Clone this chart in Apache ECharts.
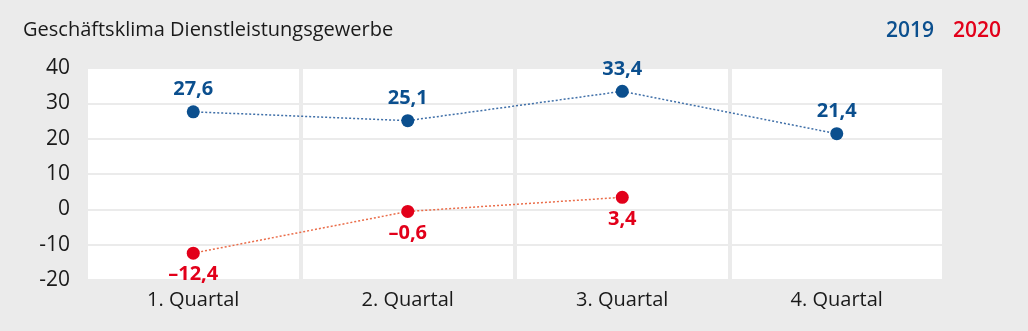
<!DOCTYPE html>
<html><head><meta charset="utf-8">
<style>html,body{margin:0;padding:0;background:#ebebeb;}#c{width:1028px;height:331px;}</style>
<script src="https://cdn.jsdelivr.net/npm/echarts@6/dist/echarts.min.js"></script>
</head><body><div id="c"></div>
<script>
const categories = ['1. Quartal', '2. Quartal', '3. Quartal', '4. Quartal'];
const values2019 = [27.6, 25.1, 33.4, 21.4];
const values2020 = [-12.4, -0.6, 3.4, null];
const yTicks = { min: -20, max: 40, interval: 10 };
const title = 'Geschäftsklima Dienstleistungsgewerbe';

const BLUE = '#0b4f8e', RED = '#e2001a';
const FONT = 'Open Sans';
function fmt(v) { return (v < 0 ? '\u2013' : '') + Math.abs(v).toFixed(1).replace('.', ','); }

const chart = echarts.init(document.getElementById('c'), null, { renderer: 'canvas' });
chart.setOption({
  backgroundColor: '#ebebeb',
  animation: false,
  title: { text: title, left: 18, top: 15, textStyle: { fontFamily: FONT, fontSize: 20, fontWeight: 'normal', color: '#1a1a1a' } },
  legend: {
    right: 22, top: 16, icon: 'none', itemWidth: 0, itemGap: 14,
    data: [
      { name: '2019', textStyle: { color: BLUE } },
      { name: '2020', textStyle: { color: RED } }
    ],
    textStyle: { fontFamily: FONT, fontSize: 21, fontWeight: 600 }
  },
  grid: { left: 86, right: 84, top: 68, bottom: 51, show: true, backgroundColor: '#ffffff', borderWidth: 0, containLabel: false },
  xAxis: {
    type: 'category', data: categories, boundaryGap: true,
    axisLine: { show: false }, axisTick: { show: false },
    axisLabel: { fontFamily: FONT, fontSize: 20, color: '#1a1a1a', margin: 10 },
    splitLine: { show: true, lineStyle: { color: '#ebebeb', width: 4 } }
  },
  yAxis: {
    type: 'value', min: yTicks.min, max: yTicks.max, interval: yTicks.interval,
    axisLine: { show: false }, axisTick: { show: false },
    axisLabel: { fontFamily: FONT, fontSize: 21, color: '#1a1a1a', margin: 16 },
    splitLine: { show: true, lineStyle: { color: '#ebebeb', width: 2 } }
  },
  series: [
    {
      name: '2019', type: 'line', data: values2019,
      symbol: 'circle', symbolSize: 13,
      itemStyle: { color: BLUE },
      lineStyle: { color: '#3f6fa8', width: 1.5, type: [2, 2] },
      label: { show: true, position: 'top', distance: 6, formatter: p => fmt(p.value), fontFamily: FONT, fontSize: 20, fontWeight: 'bold', color: BLUE }
    },
    {
      name: '2020', type: 'line', data: values2020,
      symbol: 'circle', symbolSize: 13,
      itemStyle: { color: RED },
      lineStyle: { color: '#ea6d4a', width: 1.5, type: [2, 2] },
      label: { show: true, position: 'bottom', distance: 5, formatter: p => fmt(p.value), fontFamily: FONT, fontSize: 20, fontWeight: 'bold', color: RED }
    }
  ]
});
</script></body></html>
